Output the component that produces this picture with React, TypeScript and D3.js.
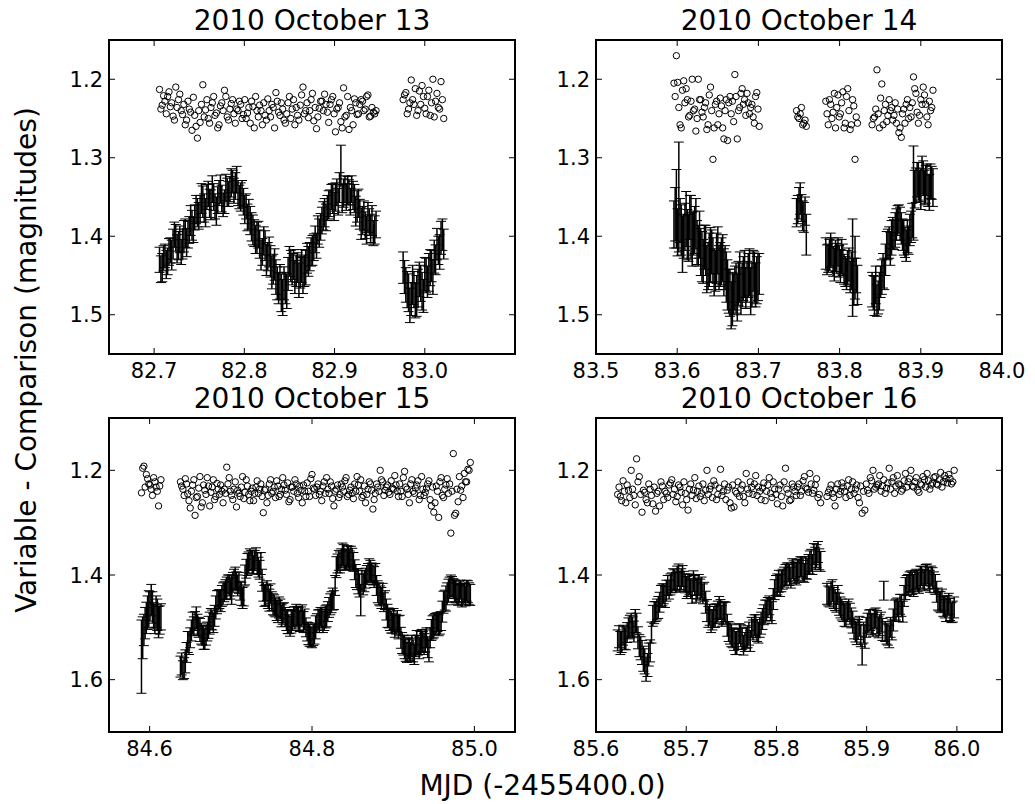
import React, { useEffect } from "react";
import * as d3 from "d3";

// ---------------- DATA ----------------
const panelTitles = ["2010 October 13", "2010 October 14", "2010 October 15", "2010 October 16"];
const xTicks13 = [82.7, 82.8, 82.9, 83.0];
const xTicks14 = [83.5, 83.6, 83.7, 83.8, 83.9, 84.0];
const xTicks15 = [84.6, 84.8, 85.0];
const xTicks16 = [85.6, 85.7, 85.8, 85.9, 86.0];
const yTicksTop = [1.2, 1.3, 1.4, 1.5];
const yTicksBottom = [1.2, 1.4, 1.6];
const xLabel = "MJD (-2455400.0)";
const yLabel = "Variable - Comparison (magnitudes)";

// ---- 2010 October 13 (frames, set A) ----
const oct13Time = [
  82.706, 82.709, 82.712, 82.715, 82.718, 82.721, 82.724, 82.727, 82.730, 82.733,
  82.736, 82.739, 82.742, 82.745, 82.748, 82.751, 82.754, 82.757, 82.760, 82.763,
  82.766, 82.769, 82.772, 82.775, 82.778, 82.781, 82.784, 82.787, 82.790, 82.793,
  82.796, 82.799, 82.802, 82.805, 82.808, 82.811, 82.814, 82.817, 82.820, 82.823,
  82.826, 82.829, 82.832, 82.835, 82.838, 82.841, 82.844, 82.847, 82.850, 82.853,
  82.856, 82.859, 82.862, 82.865, 82.868, 82.871, 82.874, 82.877, 82.880, 82.883,
  82.886, 82.889, 82.892, 82.895, 82.898, 82.901, 82.904, 82.907, 82.910, 82.913,
  82.916, 82.919, 82.922, 82.925, 82.928, 82.931, 82.934, 82.937, 82.940, 82.943,
  82.946,
  82.976, 82.979, 82.982, 82.985, 82.988, 82.991, 82.994, 82.997, 83.000, 83.003,
  83.006, 83.009, 83.012, 83.015, 83.018, 83.021,
];
const oct13Var = [
  1.430, 1.440, 1.425, 1.432, 1.418, 1.410, 1.402, 1.412, 1.420, 1.400,
  1.408, 1.392, 1.386, 1.376, 1.370, 1.365, 1.356, 1.370, 1.346, 1.360,
  1.350, 1.368, 1.345, 1.352, 1.356, 1.344, 1.340, 1.330, 1.336, 1.345,
  1.350, 1.356, 1.362, 1.372, 1.388, 1.396, 1.402, 1.410, 1.420, 1.412,
  1.426, 1.432, 1.442, 1.452, 1.466, 1.472, 1.460, 1.470, 1.432, 1.442,
  1.452, 1.440, 1.446, 1.450, 1.440, 1.432, 1.420, 1.414, 1.412, 1.396,
  1.380, 1.370, 1.364, 1.358, 1.352, 1.350, 1.356, 1.310, 1.345, 1.350,
  1.344, 1.340, 1.352, 1.362, 1.372, 1.380, 1.386, 1.376, 1.390, 1.396,
  1.385,
  1.440, 1.462, 1.472, 1.480, 1.468, 1.476, 1.455, 1.470, 1.448, 1.458,
  1.440, 1.452, 1.430, 1.418, 1.402, 1.410,
];
const oct13Err = [
  .016, .018, .015, .017, .016, .019, .017, .018, .016, .020,
  .018, .017, .019, .016, .018, .017, .020, .018, .016, .019,
  .017, .018, .016, .017, .015, .018, .016, .014, .017, .016,
  .018, .017, .016, .019, .018, .017, .020, .018, .017, .019,
  .018, .020, .019, .022, .020, .024, .021, .022, .019, .020,
  .021, .019, .020, .023, .022, .019, .018, .017, .016, .018,
  .017, .018, .016, .017, .019, .018, .017, .026, .018, .017,
  .016, .017, .018, .020, .019, .018, .017, .019, .018, .016,
  .017,
  .020, .022, .024, .021, .023, .026, .022, .024, .021, .020,
  .023, .022, .019, .018, .021, .019,
];
const oct13Comp = [
  1.213, 1.233, 1.228, 1.222, 1.235, 1.247, 1.210, 1.226, 1.240, 1.232,
  1.252, 1.238, 1.265, 1.246, 1.275, 1.255, 1.207, 1.239, 1.250, 1.236,
  1.222, 1.243, 1.258, 1.230, 1.214, 1.248, 1.238, 1.226, 1.256, 1.240,
  1.232, 1.245, 1.250, 1.236, 1.228, 1.262, 1.240, 1.233, 1.258, 1.246,
  1.225, 1.248, 1.236, 1.217, 1.242, 1.230, 1.252, 1.244, 1.222, 1.238,
  1.258, 1.246, 1.233, 1.210, 1.240, 1.249, 1.226, 1.253, 1.263, 1.237,
  1.228, 1.219, 1.242, 1.232, 1.222, 1.267, 1.236, 1.254, 1.211, 1.246,
  1.264, 1.240, 1.225, 1.245, 1.232, 1.228, 1.238, 1.220, 1.247, 1.242,
  1.240,
  1.226, 1.217, 1.238, 1.201, 1.232, 1.246, 1.215, 1.208, 1.237, 1.222,
  1.246, 1.200, 1.228, 1.236, 1.203, 1.250,
];
// ---- 2010 October 13 (frames, set B) ----
const oct13TimeB = [
  82.7075, 82.7105, 82.7135, 82.7165, 82.7195, 82.7225, 82.7255, 82.7285, 82.7315, 82.7345,
  82.7375, 82.7405, 82.7435, 82.7465, 82.7495, 82.7525, 82.7555, 82.7585, 82.7615, 82.7645,
  82.7675, 82.7705, 82.7735, 82.7765, 82.7795, 82.7825, 82.7855, 82.7885, 82.7915, 82.7945,
  82.7975, 82.8005, 82.8035, 82.8065, 82.8095, 82.8125, 82.8155, 82.8185, 82.8215, 82.8245,
  82.8275, 82.8305, 82.8335, 82.8365, 82.8395, 82.8425, 82.8455, 82.8485, 82.8515, 82.8545,
  82.8575, 82.8605, 82.8635, 82.8665, 82.8695, 82.8725, 82.8755, 82.8785, 82.8815, 82.8845,
  82.8875, 82.8905, 82.8935, 82.8965, 82.8995, 82.9025, 82.9055, 82.9085, 82.9115, 82.9145,
  82.9175, 82.9205, 82.9235, 82.9265, 82.9295, 82.9325, 82.9355, 82.9385, 82.9415, 82.9445,
  82.9775, 82.9805, 82.9835, 82.9865, 82.9895, 82.9925, 82.9955, 82.9985, 83.0015, 83.0045,
  83.0075, 83.0105, 83.0135, 83.0165, 83.0195,
];
const oct13VarB = [
  1.442, 1.428, 1.436, 1.420, 1.424, 1.398, 1.416, 1.404, 1.410, 1.396,
  1.398, 1.380, 1.392, 1.366, 1.374, 1.352, 1.364, 1.350, 1.358, 1.340,
  1.362, 1.354, 1.340, 1.360, 1.338, 1.346, 1.332, 1.342, 1.328, 1.350,
  1.346, 1.366, 1.376, 1.380, 1.392, 1.404, 1.398, 1.424, 1.406, 1.430,
  1.420, 1.446, 1.436, 1.460, 1.458, 1.478, 1.466, 1.448, 1.438, 1.436,
  1.444, 1.456, 1.438, 1.444, 1.428, 1.426, 1.418, 1.404, 1.392, 1.388,
  1.374, 1.376, 1.360, 1.350, 1.362, 1.344, 1.338, 1.352, 1.340, 1.342,
  1.356, 1.348, 1.368, 1.358, 1.384, 1.374, 1.392, 1.382, 1.380, 1.392,
  1.452, 1.468, 1.488, 1.462, 1.482, 1.466, 1.460, 1.476, 1.450, 1.446,
  1.438, 1.426, 1.410, 1.420, 1.398,
];
const oct13ErrB = [
  .017, .016, .018, .017, .019, .016, .018, .017, .019, .018,
  .017, .019, .016, .018, .017, .019, .018, .016, .018, .017,
  .016, .017, .018, .015, .017, .016, .018, .016, .017, .015,
  .017, .018, .017, .018, .019, .018, .017, .019, .018, .020,
  .019, .021, .020, .021, .022, .023, .020, .021, .020, .019,
  .020, .022, .021, .020, .019, .018, .019, .017, .018, .017,
  .018, .017, .018, .016, .018, .017, .019, .018, .017, .018,
  .017, .018, .019, .018, .020, .019, .018, .017, .019, .018,
  .021, .023, .022, .025, .022, .024, .023, .021, .022, .024,
  .020, .021, .020, .022, .020,
];
const oct13CompB = [
  1.238, 1.221, 1.244, 1.216, 1.230, 1.252, 1.236, 1.219, 1.245, 1.258,
  1.228, 1.242, 1.223, 1.260, 1.240, 1.232, 1.248, 1.226, 1.256, 1.230,
  1.246, 1.262, 1.234, 1.240, 1.222, 1.252, 1.231, 1.244, 1.238, 1.228,
  1.250, 1.226, 1.243, 1.256, 1.235, 1.222, 1.248, 1.240, 1.230, 1.252,
  1.240, 1.232, 1.262, 1.228, 1.246, 1.238, 1.256, 1.230, 1.250, 1.226,
  1.236, 1.252, 1.220, 1.244, 1.230, 1.240, 1.218, 1.236, 1.248, 1.228,
  1.240, 1.232, 1.255, 1.226, 1.244, 1.238, 1.230, 1.262, 1.248, 1.222,
  1.236, 1.258, 1.230, 1.244, 1.226, 1.240, 1.222, 1.248, 1.236, 1.244,
  1.220, 1.244, 1.230, 1.226, 1.212, 1.240, 1.232, 1.222, 1.244, 1.214,
  1.230, 1.248, 1.218, 1.238, 1.226,
];

// ---- 2010 October 14 (set A) ----
const oct14Time = [
  83.596, 83.599, 83.602, 83.605, 83.608, 83.611, 83.614, 83.617, 83.620, 83.623,
  83.626, 83.629, 83.632, 83.635, 83.638, 83.641, 83.644, 83.647, 83.650, 83.653,
  83.656, 83.659, 83.662, 83.665, 83.668, 83.671, 83.674, 83.677, 83.680, 83.683,
  83.686, 83.689, 83.692, 83.695, 83.698, 83.701,
  83.747, 83.750, 83.753, 83.756, 83.759,
  83.783, 83.786, 83.789, 83.792, 83.795, 83.798, 83.801, 83.804, 83.807, 83.810,
  83.813, 83.816, 83.819, 83.822,
  83.840, 83.843, 83.846, 83.849, 83.852, 83.855, 83.858, 83.861, 83.864, 83.867,
  83.870, 83.873, 83.876, 83.879, 83.882, 83.885, 83.888, 83.891, 83.894, 83.897,
  83.900, 83.903, 83.906, 83.909, 83.912, 83.915,
];
const oct14Var = [
  1.385, 1.365, 1.350, 1.392, 1.400, 1.378, 1.402, 1.388, 1.396, 1.384,
  1.412, 1.420, 1.432, 1.418, 1.438, 1.424, 1.430, 1.444, 1.418, 1.436,
  1.428, 1.440, 1.462, 1.472, 1.480, 1.466, 1.478, 1.452, 1.462, 1.448,
  1.458, 1.446, 1.462, 1.452, 1.456, 1.448,
  1.370, 1.358, 1.364, 1.376, 1.398,
  1.422, 1.428, 1.418, 1.432, 1.425, 1.420, 1.438, 1.430, 1.445, 1.440,
  1.452, 1.440, 1.440, 1.462,
  1.468, 1.476, 1.482, 1.470, 1.452, 1.448, 1.412, 1.408, 1.402, 1.398,
  1.385, 1.378, 1.390, 1.402, 1.412, 1.405, 1.388, 1.345, 1.335, 1.330,
  1.340, 1.326, 1.334, 1.342, 1.330, 1.338,
];
const oct14Err = [
  .030, .050, .070, .032, .028, .035, .030, .040, .028, .032,
  .026, .030, .028, .032, .030, .035, .028, .026, .030, .028,
  .030, .028, .032, .030, .034, .028, .030, .032, .028, .030,
  .026, .030, .028, .032, .030, .026,
  .018, .020, .017, .019, .026,
  .020, .018, .022, .019, .020, .018, .021, .020, .019, .022,
  .020, .062, .040, .025,
  .022, .025, .020, .024, .022, .020, .018, .020, .022, .019,
  .020, .018, .020, .022, .020, .018, .020, .060, .022, .024,
  .026, .022, .024, .020, .022, .024,
];
const oct14Comp = [
  1.205, 1.170, 1.236, 1.262, 1.202, 1.212, 1.248, 1.228, 1.240, 1.266,
  1.200, 1.226, 1.248, 1.230, 1.258, 1.210, 1.302, 1.232, 1.258, 1.224,
  1.262, 1.240, 1.278, 1.222, 1.228, 1.194, 1.276, 1.236, 1.212, 1.226,
  1.218, 1.244, 1.232, 1.256, 1.217, 1.260,
  1.240, 1.250, 1.236, 1.256, 1.260,
  1.228, 1.258, 1.232, 1.242, 1.262, 1.220, 1.244, 1.216, 1.256, 1.212,
  1.264, 1.226, 1.302, 1.256,
  1.258, 1.248, 1.188, 1.262, 1.206, 1.240, 1.254, 1.226, 1.236, 1.246,
  1.256, 1.268, 1.274, 1.238, 1.232, 1.250, 1.248, 1.197, 1.218, 1.256,
  1.226, 1.210, 1.232, 1.258, 1.240, 1.214,
];
// ---- 2010 October 14 (set B) ----
const oct14TimeB = [
  83.5975, 83.6005, 83.6035, 83.6065, 83.6095, 83.6125, 83.6155, 83.6185, 83.6215, 83.6245,
  83.6275, 83.6305, 83.6335, 83.6365, 83.6395, 83.6425, 83.6455, 83.6485, 83.6515, 83.6545,
  83.6575, 83.6605, 83.6635, 83.6665, 83.6695, 83.6725, 83.6755, 83.6785, 83.6815, 83.6845,
  83.6875, 83.6905, 83.6935, 83.6965, 83.6995,
  83.7485, 83.7515, 83.7545, 83.7575,
  83.7845, 83.7875, 83.7905, 83.7935, 83.7965, 83.7995, 83.8025, 83.8055, 83.8085, 83.8115,
  83.8145, 83.8175, 83.8205,
  83.8415, 83.8445, 83.8475, 83.8505, 83.8535, 83.8565, 83.8595, 83.8625, 83.8655, 83.8685,
  83.8715, 83.8745, 83.8775, 83.8805, 83.8835, 83.8865, 83.8895, 83.8925, 83.8955, 83.8985,
  83.9015, 83.9045, 83.9075, 83.9105, 83.9135,
];
const oct14VarB = [
  1.372, 1.395, 1.380, 1.410, 1.388, 1.398, 1.376, 1.404, 1.392, 1.408,
  1.398, 1.426, 1.414, 1.442, 1.430, 1.420, 1.446, 1.428, 1.440, 1.432,
  1.446, 1.452, 1.470, 1.488, 1.474, 1.466, 1.460, 1.470, 1.454, 1.466,
  1.450, 1.470, 1.444, 1.462, 1.452,
  1.366, 1.352, 1.374, 1.368,
  1.430, 1.424, 1.420, 1.436, 1.428, 1.432, 1.426, 1.442, 1.448, 1.436,
  1.444, 1.458, 1.450,
  1.472, 1.462, 1.478, 1.458, 1.444, 1.430, 1.410, 1.416, 1.396, 1.392,
  1.380, 1.384, 1.398, 1.408, 1.400, 1.392, 1.380, 1.340, 1.328, 1.336,
  1.322, 1.338, 1.328, 1.344, 1.332,
];
const oct14ErrB = [
  .034, .030, .028, .036, .030, .032, .028, .034, .030, .028,
  .030, .032, .028, .030, .034, .028, .030, .032, .028, .030,
  .030, .032, .028, .030, .026, .032, .028, .030, .028, .026,
  .028, .030, .026, .028, .030,
  .018, .020, .019, .018,
  .019, .020, .018, .021, .019, .020, .022, .019, .020, .021,
  .024, .030, .022,
  .022, .024, .021, .020, .022, .020, .019, .021, .020, .022,
  .019, .021, .020, .019, .021, .020, .022, .024, .022, .020,
  .024, .022, .020, .023, .021,
];
const oct14CompB = [
  1.222, 1.204, 1.258, 1.214, 1.230, 1.226, 1.246, 1.200, 1.238, 1.250,
  1.226, 1.242, 1.236, 1.264, 1.220, 1.240, 1.262, 1.228, 1.244, 1.234,
  1.276, 1.226, 1.230, 1.244, 1.254, 1.222, 1.240, 1.218, 1.232, 1.246,
  1.230, 1.236, 1.248, 1.222, 1.238,
  1.248, 1.244, 1.258, 1.252,
  1.244, 1.226, 1.250, 1.218, 1.236, 1.248, 1.230, 1.262, 1.222, 1.240,
  1.258, 1.234, 1.248,
  1.250, 1.238, 1.244, 1.224, 1.258, 1.232, 1.246, 1.240, 1.252, 1.230,
  1.238, 1.262, 1.244, 1.256, 1.226, 1.236, 1.230, 1.212, 1.242, 1.246,
  1.232, 1.220, 1.248, 1.228, 1.236,
];

// ---- 2010 October 15 (set A) ----
const oct15Time = [
  84.590, 84.593, 84.596, 84.599, 84.602, 84.605, 84.608, 84.611, 84.614,
  84.638, 84.641, 84.644, 84.647, 84.650, 84.653, 84.656, 84.659, 84.662, 84.665,
  84.668, 84.671, 84.674, 84.677, 84.680, 84.683, 84.686, 84.689, 84.692, 84.695,
  84.698, 84.701, 84.704, 84.707, 84.710, 84.713, 84.716, 84.719, 84.722, 84.725,
  84.728, 84.731, 84.734, 84.737, 84.740, 84.743, 84.746, 84.749, 84.752, 84.755,
  84.758, 84.761, 84.764, 84.767, 84.770, 84.773, 84.776, 84.779, 84.782, 84.785,
  84.788, 84.791, 84.794, 84.797, 84.800, 84.803, 84.806, 84.809, 84.812, 84.815,
  84.818, 84.821, 84.824, 84.827, 84.830, 84.833, 84.836, 84.839, 84.842, 84.845,
  84.848, 84.851, 84.854, 84.857, 84.860, 84.863, 84.866, 84.869, 84.872, 84.875,
  84.878, 84.881, 84.884, 84.887, 84.890, 84.893, 84.896, 84.899, 84.902, 84.905,
  84.908, 84.911, 84.914, 84.917, 84.920, 84.923, 84.926, 84.929, 84.932, 84.935,
  84.938, 84.941, 84.944, 84.947, 84.950, 84.953, 84.956, 84.959, 84.962, 84.965,
  84.968, 84.971, 84.974, 84.977, 84.980, 84.983, 84.986, 84.989, 84.992, 84.995,
];
const oct15Var = [
  1.556, 1.505, 1.482, 1.465, 1.448, 1.478, 1.470, 1.490, 1.480,
  1.575, 1.582, 1.565, 1.528, 1.520, 1.492, 1.488, 1.495, 1.505, 1.515,
  1.522, 1.508, 1.492, 1.486, 1.478, 1.452, 1.446, 1.440, 1.432, 1.425,
  1.420, 1.428, 1.408, 1.412, 1.415, 1.436, 1.440, 1.388, 1.376, 1.372,
  1.380, 1.368, 1.385, 1.378, 1.432, 1.438, 1.442, 1.436, 1.456, 1.462,
  1.470, 1.465, 1.474, 1.480, 1.490, 1.498, 1.486, 1.482, 1.478, 1.488,
  1.476, 1.485, 1.508, 1.515, 1.520, 1.512, 1.492, 1.488, 1.482, 1.486,
  1.478, 1.462, 1.452, 1.448, 1.385, 1.372, 1.368, 1.362, 1.370, 1.366,
  1.365, 1.375, 1.402, 1.412, 1.448, 1.418, 1.406, 1.396, 1.392, 1.400,
  1.398, 1.432, 1.440, 1.436, 1.448, 1.478, 1.486, 1.492, 1.498, 1.488,
  1.496, 1.530, 1.538, 1.548, 1.542, 1.535, 1.552, 1.528, 1.540, 1.525,
  1.532, 1.520, 1.545, 1.505, 1.498, 1.492, 1.496, 1.488, 1.452, 1.445,
  1.430, 1.420, 1.426, 1.432, 1.438, 1.428, 1.436, 1.440, 1.432, 1.438,
];
const oct15Err = [
  .070, .030, .030, .035, .030, .025, .030, .030, .025,
  .020, .018, .022, .020, .019, .021, .018, .020, .022, .019,
  .020, .018, .021, .019, .020, .022, .018, .020, .019, .021,
  .020, .028, .019, .018, .020, .022, .019, .018, .020, .019,
  .018, .020, .019, .021, .018, .020, .022, .019, .020, .018,
  .021, .019, .020, .018, .022, .019, .020, .021, .018, .020,
  .019, .020, .018, .021, .019, .020, .018, .022, .019, .020,
  .021, .019, .020, .018, .020, .019, .018, .020, .019, .021,
  .020, .018, .022, .024, .030, .020, .019, .018, .020, .019,
  .020, .021, .019, .020, .018, .022, .020, .019, .021, .020,
  .019, .020, .022, .019, .021, .020, .019, .022, .020, .021,
  .020, .019, .021, .020, .022, .019, .020, .018, .021, .024,
  .022, .020, .019, .021, .020, .018, .020, .019, .021, .020,
];
const oct15Comp = [
  1.243, 1.192, 1.208, 1.226, 1.236, 1.214, 1.232, 1.268, 1.218,
  1.222, 1.236, 1.216, 1.245, 1.272, 1.228, 1.286, 1.250, 1.212, 1.262,
  1.238, 1.214, 1.268, 1.232, 1.256, 1.225, 1.246, 1.240, 1.236, 1.194,
  1.214, 1.248, 1.236, 1.270, 1.244, 1.232, 1.254, 1.218, 1.246, 1.240,
  1.258, 1.232, 1.244, 1.226, 1.281, 1.236, 1.248, 1.218, 1.240, 1.252,
  1.230, 1.246, 1.214, 1.238, 1.224, 1.256, 1.232, 1.218, 1.244, 1.230,
  1.262, 1.240, 1.224, 1.250, 1.208, 1.236, 1.232, 1.246, 1.258, 1.222,
  1.214, 1.244, 1.230, 1.268, 1.236, 1.252, 1.226, 1.240, 1.214, 1.246,
  1.232, 1.254, 1.240, 1.228, 1.218, 1.248, 1.262, 1.236, 1.226, 1.274,
  1.244, 1.232, 1.200, 1.222, 1.238, 1.228, 1.246, 1.234, 1.210, 1.240,
  1.226, 1.250, 1.202, 1.236, 1.262, 1.218, 1.244, 1.228, 1.256, 1.212,
  1.248, 1.234, 1.220, 1.268, 1.280, 1.230, 1.290, 1.214, 1.252, 1.228,
  1.244, 1.320, 1.168, 1.282, 1.260, 1.238, 1.252, 1.222, 1.198, 1.185,
];
// ---- 2010 October 15 (set B) ----
const oct15TimeB = [
  84.5915, 84.5945, 84.5975, 84.6005, 84.6035, 84.6065, 84.6095, 84.6125,
  84.6395, 84.6425, 84.6455, 84.6485, 84.6515, 84.6545, 84.6575, 84.6605, 84.6635, 84.6665,
  84.6695, 84.6725, 84.6755, 84.6785, 84.6815, 84.6845, 84.6875, 84.6905, 84.6935, 84.6965,
  84.6995, 84.7025, 84.7055, 84.7085, 84.7115, 84.7145, 84.7175, 84.7205, 84.7235, 84.7265,
  84.7295, 84.7325, 84.7355, 84.7385, 84.7415, 84.7445, 84.7475, 84.7505, 84.7535, 84.7565,
  84.7595, 84.7625, 84.7655, 84.7685, 84.7715, 84.7745, 84.7775, 84.7805, 84.7835, 84.7865,
  84.7895, 84.7925, 84.7955, 84.7985, 84.8015, 84.8045, 84.8075, 84.8105, 84.8135, 84.8165,
  84.8195, 84.8225, 84.8255, 84.8285, 84.8315, 84.8345, 84.8375, 84.8405, 84.8435, 84.8465,
  84.8495, 84.8525, 84.8555, 84.8585, 84.8615, 84.8645, 84.8675, 84.8705, 84.8735, 84.8765,
  84.8795, 84.8825, 84.8855, 84.8885, 84.8915, 84.8945, 84.8975, 84.9005, 84.9035, 84.9065,
  84.9095, 84.9125, 84.9155, 84.9185, 84.9215, 84.9245, 84.9275, 84.9305, 84.9335, 84.9365,
  84.9395, 84.9425, 84.9455, 84.9485, 84.9515, 84.9545, 84.9575, 84.9605, 84.9635, 84.9665,
  84.9695, 84.9725, 84.9755, 84.9785, 84.9815, 84.9845, 84.9875, 84.9905, 84.9935,
];
const oct15VarB = [
  1.520, 1.492, 1.472, 1.460, 1.462, 1.484, 1.476, 1.486,
  1.570, 1.578, 1.548, 1.530, 1.506, 1.498, 1.482, 1.500, 1.512, 1.520,
  1.515, 1.500, 1.484, 1.492, 1.462, 1.448, 1.450, 1.436, 1.428, 1.418,
  1.426, 1.414, 1.406, 1.420, 1.430, 1.444, 1.400, 1.380, 1.370, 1.376,
  1.372, 1.378, 1.390, 1.410, 1.440, 1.430, 1.448, 1.450, 1.458, 1.468,
  1.462, 1.478, 1.472, 1.486, 1.494, 1.490, 1.480, 1.476, 1.484, 1.480,
  1.490, 1.500, 1.512, 1.518, 1.515, 1.500, 1.486, 1.480, 1.490, 1.480,
  1.470, 1.456, 1.446, 1.420, 1.378, 1.376, 1.360, 1.372, 1.364, 1.372,
  1.370, 1.390, 1.408, 1.420, 1.410, 1.412, 1.400, 1.390, 1.396, 1.404,
  1.420, 1.436, 1.444, 1.452, 1.466, 1.482, 1.490, 1.484, 1.494, 1.500,
  1.520, 1.534, 1.544, 1.540, 1.548, 1.545, 1.536, 1.534, 1.530, 1.528,
  1.526, 1.538, 1.520, 1.500, 1.494, 1.490, 1.492, 1.470, 1.448, 1.436,
  1.424, 1.422, 1.430, 1.436, 1.432, 1.440, 1.434, 1.430, 1.436,
];
const oct15ErrB = [
  .040, .030, .032, .028, .030, .028, .030, .027,
  .021, .020, .019, .022, .020, .018, .021, .019, .020, .022,
  .019, .021, .020, .018, .022, .019, .020, .021, .019, .018,
  .020, .019, .021, .020, .018, .020, .019, .021, .020, .022,
  .019, .020, .018, .021, .020, .019, .021, .018, .020, .019,
  .020, .021, .019, .020, .018, .021, .019, .020, .022, .019,
  .020, .018, .021, .019, .020, .022, .019, .018, .020, .021,
  .019, .020, .021, .019, .018, .020, .021, .019, .020, .018,
  .021, .019, .020, .022, .019, .020, .018, .021, .019, .020,
  .019, .021, .020, .018, .020, .019, .021, .020, .019, .022,
  .020, .019, .021, .020, .018, .021, .020, .019, .022, .020,
  .021, .020, .019, .022, .020, .018, .021, .020, .019, .021,
  .020, .019, .021, .020, .019, .021, .018, .020, .021,
];
const oct15CompB = [
  1.196, 1.232, 1.216, 1.228, 1.248, 1.222, 1.240, 1.230,
  1.230, 1.248, 1.226, 1.258, 1.240, 1.218, 1.252, 1.234, 1.270, 1.228,
  1.246, 1.230, 1.242, 1.218, 1.250, 1.236, 1.228, 1.262, 1.244, 1.226,
  1.240, 1.256, 1.222, 1.238, 1.250, 1.212, 1.242, 1.230, 1.258, 1.234,
  1.244, 1.220, 1.236, 1.250, 1.238, 1.262, 1.226, 1.244, 1.232, 1.220,
  1.250, 1.236, 1.228, 1.246, 1.260, 1.232, 1.240, 1.226, 1.252, 1.238,
  1.228, 1.250, 1.240, 1.216, 1.234, 1.248, 1.226, 1.240, 1.230, 1.244,
  1.236, 1.222, 1.254, 1.240, 1.228, 1.246, 1.232, 1.220, 1.250, 1.238,
  1.244, 1.226, 1.212, 1.240, 1.252, 1.230, 1.246, 1.222, 1.238, 1.256,
  1.226, 1.240, 1.218, 1.248, 1.232, 1.242, 1.220, 1.236, 1.228, 1.250,
  1.240, 1.214, 1.232, 1.246, 1.226, 1.240, 1.234, 1.220, 1.248, 1.236,
  1.242, 1.226, 1.256, 1.232, 1.262, 1.240, 1.222, 1.248, 1.236, 1.216,
  1.226, 1.240, 1.286, 1.236, 1.212, 1.230, 1.206, 1.222, 1.200,
];

// ---- 2010 October 16 (set A) ----
const oct16Time = [
  85.624, 85.627, 85.630, 85.633, 85.636, 85.639, 85.642, 85.645, 85.648, 85.651,
  85.654, 85.657, 85.660, 85.663, 85.666, 85.669, 85.672, 85.675, 85.678, 85.681,
  85.684, 85.687, 85.690, 85.693, 85.696, 85.699, 85.702, 85.705, 85.708, 85.711,
  85.714, 85.717, 85.720, 85.723, 85.726, 85.729, 85.732, 85.735, 85.738, 85.741,
  85.744, 85.747, 85.750, 85.753, 85.756, 85.759, 85.762, 85.765, 85.768, 85.771,
  85.774, 85.777, 85.780, 85.783, 85.786, 85.789, 85.792, 85.795, 85.798, 85.801,
  85.804, 85.807, 85.810, 85.813, 85.816, 85.819, 85.822, 85.825, 85.828, 85.831,
  85.834, 85.837, 85.840, 85.843, 85.846, 85.849,
  85.856, 85.859, 85.862, 85.865, 85.868, 85.871, 85.874, 85.877, 85.880, 85.883,
  85.886, 85.889, 85.892, 85.895, 85.898, 85.901, 85.904, 85.907, 85.910, 85.913,
  85.916, 85.919, 85.922, 85.925, 85.928, 85.931, 85.934, 85.937, 85.940, 85.943,
  85.946, 85.949, 85.952, 85.955, 85.958, 85.961, 85.964, 85.967, 85.970, 85.973,
  85.976, 85.979, 85.982, 85.985, 85.988, 85.991, 85.994, 85.997,
];
const oct16Var = [
  1.525, 1.530, 1.515, 1.522, 1.502, 1.495, 1.508, 1.492, 1.535, 1.548,
  1.565, 1.572, 1.545, 1.478, 1.470, 1.462, 1.440, 1.436, 1.430, 1.428,
  1.415, 1.410, 1.405, 1.412, 1.402, 1.416, 1.420, 1.426, 1.412, 1.430,
  1.418, 1.424, 1.432, 1.468, 1.476, 1.486, 1.478, 1.470, 1.466, 1.474,
  1.472, 1.508, 1.516, 1.524, 1.530, 1.512, 1.522, 1.528, 1.518, 1.526,
  1.505, 1.498, 1.510, 1.492, 1.476, 1.468, 1.458, 1.472, 1.428, 1.418,
  1.420, 1.408, 1.400, 1.395, 1.405, 1.392, 1.398, 1.390, 1.385, 1.396,
  1.388, 1.376, 1.380, 1.368, 1.356, 1.374,
  1.436, 1.442, 1.430, 1.448, 1.438, 1.462, 1.470, 1.478, 1.466, 1.482,
  1.502, 1.512, 1.498, 1.552, 1.518, 1.492, 1.486, 1.496, 1.482, 1.500,
  1.490, 1.430, 1.512, 1.518, 1.505, 1.468, 1.462, 1.456, 1.470, 1.426,
  1.418, 1.412, 1.420, 1.408, 1.415, 1.402, 1.410, 1.398, 1.412, 1.406,
  1.418, 1.446, 1.452, 1.460, 1.468, 1.455, 1.472, 1.462,
];
const oct16Err = [
  .020, .022, .019, .021, .020, .022, .020, .019, .021, .023,
  .024, .022, .021, .020, .019, .021, .020, .019, .020, .018,
  .019, .020, .022, .019, .020, .018, .021, .019, .020, .022,
  .019, .020, .018, .021, .020, .019, .022, .020, .019, .021,
  .020, .019, .021, .020, .022, .019, .020, .018, .021, .020,
  .019, .022, .020, .021, .019, .020, .018, .021, .019, .020,
  .021, .019, .020, .018, .020, .019, .021, .020, .019, .018,
  .020, .022, .019, .021, .020, .019,
  .020, .019, .021, .020, .018, .020, .019, .021, .020, .019,
  .020, .021, .019, .020, .022, .019, .020, .021, .019, .020,
  .019, .018, .020, .021, .019, .020, .018, .019, .020, .021,
  .019, .020, .021, .019, .020, .018, .020, .019, .021, .020,
  .019, .021, .020, .019, .021, .020, .019, .020,
];
const oct16Comp = [
  1.246, 1.250, 1.220, 1.262, 1.238, 1.200, 1.248, 1.178, 1.212, 1.280,
  1.242, 1.262, 1.236, 1.264, 1.278, 1.240, 1.222, 1.256, 1.244, 1.228,
  1.218, 1.236, 1.250, 1.232, 1.266, 1.244, 1.276, 1.226, 1.238, 1.254,
  1.230, 1.244, 1.258, 1.200, 1.236, 1.252, 1.228, 1.246, 1.198, 1.240,
  1.256, 1.232, 1.272, 1.270, 1.244, 1.250, 1.228, 1.262, 1.236, 1.222,
  1.246, 1.210, 1.232, 1.256, 1.224, 1.240, 1.214, 1.252, 1.236, 1.264,
  1.228, 1.268, 1.196, 1.244, 1.256, 1.232, 1.248, 1.226, 1.240, 1.212,
  1.236, 1.206, 1.244, 1.228, 1.252, 1.262,
  1.250, 1.236, 1.244, 1.268, 1.226, 1.240, 1.232, 1.252, 1.218, 1.236,
  1.244, 1.228, 1.262, 1.282, 1.276, 1.238, 1.214, 1.200, 1.232, 1.226,
  1.240, 1.218, 1.234, 1.196, 1.222, 1.244, 1.210, 1.228, 1.236, 1.206,
  1.222, 1.200, 1.232, 1.214, 1.242, 1.228, 1.218, 1.206, 1.236, 1.224,
  1.212, 1.228, 1.204, 1.222, 1.216, 1.208, 1.226, 1.200,
];
// ---- 2010 October 16 (set B) ----
const oct16TimeB = [
  85.6255, 85.6285, 85.6315, 85.6345, 85.6375, 85.6405, 85.6435, 85.6465, 85.6495, 85.6525,
  85.6555, 85.6585, 85.6615, 85.6645, 85.6675, 85.6705, 85.6735, 85.6765, 85.6795, 85.6825,
  85.6855, 85.6885, 85.6915, 85.6945, 85.6975, 85.7005, 85.7035, 85.7065, 85.7095, 85.7125,
  85.7155, 85.7185, 85.7215, 85.7245, 85.7275, 85.7305, 85.7335, 85.7365, 85.7395, 85.7425,
  85.7455, 85.7485, 85.7515, 85.7545, 85.7575, 85.7605, 85.7635, 85.7665, 85.7695, 85.7725,
  85.7755, 85.7785, 85.7815, 85.7845, 85.7875, 85.7905, 85.7935, 85.7965, 85.7995, 85.8025,
  85.8055, 85.8085, 85.8115, 85.8145, 85.8175, 85.8205, 85.8235, 85.8265, 85.8295, 85.8325,
  85.8355, 85.8385, 85.8415, 85.8445, 85.8475,
  85.8575, 85.8605, 85.8635, 85.8665, 85.8695, 85.8725, 85.8755, 85.8785, 85.8815, 85.8845,
  85.8875, 85.8905, 85.8935, 85.8965, 85.8995, 85.9025, 85.9055, 85.9085, 85.9115, 85.9145,
  85.9175, 85.9205, 85.9235, 85.9265, 85.9295, 85.9325, 85.9355, 85.9385, 85.9415, 85.9445,
  85.9475, 85.9505, 85.9535, 85.9565, 85.9595, 85.9625, 85.9655, 85.9685, 85.9715, 85.9745,
  85.9775, 85.9805, 85.9835, 85.9865, 85.9895, 85.9925, 85.9955,
];
const oct16VarB = [
  1.518, 1.528, 1.520, 1.510, 1.498, 1.500, 1.488, 1.520, 1.540, 1.560,
  1.580, 1.552, 1.510, 1.472, 1.466, 1.452, 1.438, 1.442, 1.420, 1.418,
  1.408, 1.414, 1.400, 1.408, 1.412, 1.424, 1.418, 1.432, 1.420, 1.426,
  1.428, 1.436, 1.452, 1.480, 1.488, 1.480, 1.474, 1.462, 1.478, 1.470,
  1.496, 1.512, 1.520, 1.530, 1.522, 1.516, 1.534, 1.520, 1.512, 1.500,
  1.496, 1.506, 1.500, 1.484, 1.470, 1.462, 1.466, 1.446, 1.420, 1.412,
  1.412, 1.404, 1.398, 1.400, 1.388, 1.396, 1.392, 1.384, 1.392, 1.386,
  1.380, 1.372, 1.360, 1.364, 1.370,
  1.440, 1.434, 1.444, 1.452, 1.456, 1.466, 1.476, 1.470, 1.474, 1.490,
  1.508, 1.504, 1.516, 1.510, 1.500, 1.488, 1.494, 1.484, 1.490, 1.496,
  1.504, 1.508, 1.514, 1.500, 1.486, 1.466, 1.470, 1.458, 1.440, 1.420,
  1.414, 1.416, 1.410, 1.412, 1.404, 1.408, 1.400, 1.406, 1.402, 1.414,
  1.432, 1.450, 1.448, 1.462, 1.458, 1.466, 1.470,
];
const oct16ErrB = [
  .021, .020, .022, .019, .021, .020, .022, .021, .022, .024,
  .023, .022, .020, .021, .020, .019, .021, .020, .019, .020,
  .020, .019, .021, .020, .019, .021, .020, .022, .019, .020,
  .020, .019, .021, .020, .022, .020, .019, .021, .020, .019,
  .021, .020, .019, .022, .020, .021, .019, .020, .022, .019,
  .020, .021, .019, .020, .022, .019, .021, .020, .019, .021,
  .020, .019, .021, .020, .019, .020, .022, .019, .020, .021,
  .019, .021, .020, .022, .020,
  .019, .021, .020, .019, .021, .020, .022, .019, .020, .021,
  .020, .019, .021, .020, .019, .021, .020, .019, .022, .020,
  .021, .019, .020, .019, .021, .020, .019, .021, .020, .019,
  .020, .021, .019, .020, .021, .019, .020, .021, .019, .020,
  .020, .019, .021, .020, .019, .021, .020,
];
const oct16CompB = [
  1.232, 1.258, 1.240, 1.228, 1.252, 1.236, 1.266, 1.222, 1.246, 1.238,
  1.256, 1.226, 1.248, 1.232, 1.244, 1.268, 1.230, 1.240, 1.252, 1.224,
  1.246, 1.260, 1.228, 1.242, 1.222, 1.256, 1.236, 1.248, 1.214, 1.240,
  1.250, 1.226, 1.238, 1.246, 1.230, 1.220, 1.256, 1.234, 1.248, 1.226,
  1.238, 1.262, 1.228, 1.240, 1.222, 1.236, 1.250, 1.206, 1.244, 1.232,
  1.226, 1.248, 1.240, 1.234, 1.258, 1.228, 1.244, 1.222, 1.246, 1.236,
  1.250, 1.222, 1.236, 1.258, 1.226, 1.240, 1.232, 1.248, 1.220, 1.234,
  1.242, 1.226, 1.238, 1.216, 1.246,
  1.242, 1.228, 1.252, 1.236, 1.246, 1.224, 1.240, 1.230, 1.248, 1.222,
  1.236, 1.252, 1.230, 1.240, 1.226, 1.244, 1.220, 1.236, 1.228, 1.210,
  1.230, 1.244, 1.224, 1.236, 1.214, 1.230, 1.226, 1.240, 1.220, 1.232,
  1.216, 1.230, 1.222, 1.238, 1.226, 1.212, 1.232, 1.220, 1.228, 1.214,
  1.226, 1.218, 1.232, 1.210, 1.224, 1.216, 1.222,
];

// ---------------- LAYOUT ----------------
const W = 1035;
const H = 804;
const FONT = "DejaVu Sans, Liberation Sans, sans-serif";

type Frames = { time: number[]; vr: number[]; err: number[]; comp: number[] };
type PanelCfg = {
  title: string;
  left: number;
  top: number;
  w: number;
  h: number;
  xDomain: [number, number];
  yDomain: [number, number];
  xTicks: number[];
  yTicks: number[];
  sets: Frames[];
};

const PW = 406;
const PH = 314;
const panels: PanelCfg[] = [
  {
    title: panelTitles[0], left: 109, top: 40, w: PW, h: PH, xDomain: [82.65, 83.1], yDomain: [1.15, 1.55], xTicks: xTicks13, yTicks: yTicksTop,
    sets: [
      { time: oct13Time, vr: oct13Var, err: oct13Err, comp: oct13Comp },
      { time: oct13TimeB, vr: oct13VarB, err: oct13ErrB, comp: oct13CompB },
    ],
  },
  {
    title: panelTitles[1], left: 596, top: 40, w: PW, h: PH, xDomain: [83.5, 84.0], yDomain: [1.15, 1.55], xTicks: xTicks14, yTicks: yTicksTop,
    sets: [
      { time: oct14Time, vr: oct14Var, err: oct14Err, comp: oct14Comp },
      { time: oct14TimeB, vr: oct14VarB, err: oct14ErrB, comp: oct14CompB },
    ],
  },
  {
    title: panelTitles[2], left: 109, top: 418, w: PW, h: PH, xDomain: [84.55, 85.05], yDomain: [1.1, 1.7], xTicks: xTicks15, yTicks: yTicksBottom,
    sets: [
      { time: oct15Time, vr: oct15Var, err: oct15Err, comp: oct15Comp },
      { time: oct15TimeB, vr: oct15VarB, err: oct15ErrB, comp: oct15CompB },
    ],
  },
  {
    title: panelTitles[3], left: 596, top: 418, w: PW, h: PH, xDomain: [85.6, 86.05], yDomain: [1.1, 1.7], xTicks: xTicks16, yTicks: yTicksBottom,
    sets: [
      { time: oct16Time, vr: oct16Var, err: oct16Err, comp: oct16Comp },
      { time: oct16TimeB, vr: oct16VarB, err: oct16ErrB, comp: oct16CompB },
    ],
  },
];

function Panel({ cfg, idx }: { cfg: PanelCfg; idx: number }) {
  const x = d3.scaleLinear().domain(cfg.xDomain).range([cfg.left, cfg.left + cfg.w]);
  const y = d3.scaleLinear().domain(cfg.yDomain).range([cfg.top, cfg.top + cfg.h]);
  const fmt = d3.format(".1f");
  const bars: { t: number; v: number; e: number }[] = [];
  const circles: { t: number; c: number }[] = [];
  cfg.sets.forEach((s) => {
    const n = Math.min(s.time.length, s.vr.length, s.err.length);
    for (let i = 0; i < n; i++) bars.push({ t: s.time[i], v: s.vr[i], e: s.err[i] });
    const m = Math.min(s.time.length, s.comp.length);
    for (let i = 0; i < m; i++) circles.push({ t: s.time[i], c: s.comp[i] });
  });
  bars.sort((a, b) => a.t - b.t);
  circles.sort((a, b) => a.t - b.t);
  const bottom = cfg.top + cfg.h;
  const right = cfg.left + cfg.w;
  const tickLen = 6;
  const cap = 5;
  const clipId = `clip${idx}`;
  return (
    <g>
      <defs>
        <clipPath id={clipId}>
          <rect x={cfg.left} y={cfg.top} width={cfg.w} height={cfg.h} />
        </clipPath>
      </defs>
      <g clipPath={`url(#${clipId})`}>
        {circles.map((p, i) => (
          <circle key={"c" + i} cx={x(p.t)} cy={y(p.c)} r={3.2} fill="none" stroke="#000" strokeWidth={1} />
        ))}
        {bars.map((p, i) => {
          const cx = x(p.t);
          const y0 = y(p.v - p.e);
          const y1 = y(p.v + p.e);
          return (
            <g key={"b" + i}>
              <line x1={cx} x2={cx} y1={y0} y2={y1} stroke="#000" strokeWidth={1.5} />
              <line x1={cx - cap} x2={cx + cap} y1={y0} y2={y0} stroke="#000" strokeWidth={1} />
              <line x1={cx - cap} x2={cx + cap} y1={y1} y2={y1} stroke="#000" strokeWidth={1} />
            </g>
          );
        })}
      </g>
      {cfg.xTicks.map((t, i) => (
        <g key={"xt" + i}>
          <line x1={x(t)} x2={x(t)} y1={bottom} y2={bottom - tickLen} stroke="#000" strokeWidth={1} />
          <line x1={x(t)} x2={x(t)} y1={cfg.top} y2={cfg.top + tickLen} stroke="#000" strokeWidth={1} />
          <text x={x(t)} y={bottom + 24} textAnchor="middle" fontFamily={FONT} fontSize={21} fill="#000">
            {fmt(t)}
          </text>
        </g>
      ))}
      {cfg.yTicks.map((t, i) => (
        <g key={"yt" + i}>
          <line x1={cfg.left} x2={cfg.left + tickLen} y1={y(t)} y2={y(t)} stroke="#000" strokeWidth={1} />
          <line x1={right} x2={right - tickLen} y1={y(t)} y2={y(t)} stroke="#000" strokeWidth={1} />
          <text x={cfg.left - 6} y={y(t)} dy="0.36em" textAnchor="end" fontFamily={FONT} fontSize={21} fill="#000">
            {fmt(t)}
          </text>
        </g>
      ))}
      <rect x={cfg.left} y={cfg.top} width={cfg.w} height={cfg.h} fill="none" stroke="#000" strokeWidth={2} />
      <text x={cfg.left + cfg.w / 2} y={cfg.top - 10} textAnchor="middle" fontFamily={FONT} fontSize={28} fill="#000">
        {cfg.title}
      </text>
    </g>
  );
}

export default function App() {
  useEffect(() => {
    document.body.style.margin = "0";
  }, []);
  return (
    <svg width={W} height={H} viewBox={`0 0 ${W} ${H}`} style={{ position: "absolute", left: 0, top: 0, background: "#fff" }}>
      <rect x={0} y={0} width={W} height={H} fill="#fff" />
      {panels.map((p, i) => (
        <Panel key={i} cfg={p} idx={i} />
      ))}
      <text x={542.5} y={795} textAnchor="middle" fontFamily={FONT} fontSize={28} fill="#000">
        {xLabel}
      </text>
      <text transform="translate(36,360) rotate(-90)" textAnchor="middle" fontFamily={FONT} fontSize={28} fill="#000">
        {yLabel}
      </text>
    </svg>
  );
}
